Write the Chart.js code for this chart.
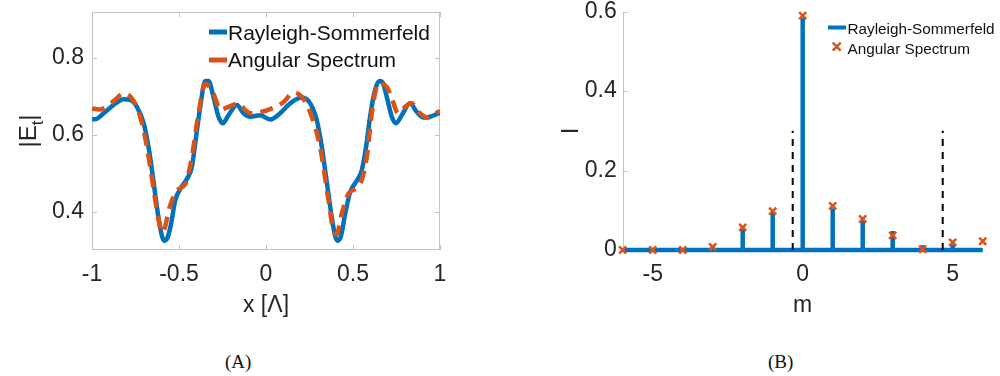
<!DOCTYPE html>
<html>
<head>
<meta charset="utf-8">
<script src="https://cdn.jsdelivr.net/npm/chart.js@4.4.0/dist/chart.umd.min.js"></script>
<style>
  html, body { margin: 0; padding: 0; background: #ffffff; }
  body { width: 1000px; height: 376px; position: relative; overflow: hidden; }
  #wa { position: absolute; left: 0; top: 0; }
  #wb { position: absolute; left: 520px; top: 0; }
  .cap { position: absolute; top: 351px; font-family: "Liberation Serif", "DejaVu Serif", serif; font-size: 19px; color: #111; }
</style>
</head>
<body>
<div id="wa"><canvas id="ca" width="470" height="320"></canvas></div>
<div id="wb"><canvas id="cb" width="480" height="320"></canvas></div>
<div class="cap" style="left:225px;">(A)</div>
<div class="cap" style="left:768px;">(B)</div>
<script>
// ---------- Panel A data: |E_t| vs x [Lambda] ----------
const rsX = [-1.000,-0.971,-0.933,-0.876,-0.818,-0.780,-0.742,-0.703,-0.675,-0.655,-0.637,-0.618,-0.598,-0.585,-0.566,-0.546,-0.522,-0.493,-0.455,-0.426,-0.407,-0.378,-0.349,-0.330,-0.302,-0.273,-0.248,-0.216,-0.167,-0.129,-0.091,-0.034,0.024,0.081,0.139,0.206,0.254,0.292,0.321,0.340,0.359,0.378,0.397,0.410,0.430,0.455,0.483,0.522,0.550,0.575,0.598,0.627,0.652,0.671,0.694,0.723,0.747,0.780,0.828,0.866,0.904,0.943,0.990,1.000];
const rsY = [0.640,0.642,0.656,0.678,0.693,0.691,0.673,0.630,0.568,0.507,0.446,0.385,0.337,0.324,0.332,0.367,0.429,0.459,0.485,0.516,0.577,0.673,0.740,0.740,0.699,0.647,0.630,0.651,0.678,0.656,0.647,0.651,0.640,0.656,0.682,0.697,0.682,0.638,0.568,0.507,0.446,0.385,0.337,0.324,0.335,0.394,0.450,0.481,0.507,0.568,0.647,0.717,0.740,0.736,0.699,0.647,0.630,0.651,0.682,0.660,0.645,0.647,0.656,0.658];
const asX = [-1.000,-0.960,-0.920,-0.870,-0.818,-0.780,-0.740,-0.710,-0.684,-0.660,-0.640,-0.620,-0.598,-0.580,-0.560,-0.512,-0.464,-0.426,-0.388,-0.349,-0.302,-0.263,-0.216,-0.158,-0.120,-0.091,-0.024,0.034,0.100,0.158,0.206,0.263,0.311,0.359,0.388,0.406,0.435,0.473,0.541,0.579,0.608,0.646,0.694,0.723,0.760,0.789,0.837,0.885,0.933,0.990,1.000];
const asY = [0.669,0.666,0.672,0.690,0.708,0.700,0.670,0.625,0.568,0.500,0.440,0.385,0.346,0.360,0.402,0.455,0.472,0.542,0.656,0.733,0.708,0.665,0.673,0.682,0.665,0.656,0.660,0.669,0.685,0.710,0.699,0.647,0.568,0.429,0.350,0.341,0.394,0.446,0.472,0.542,0.656,0.734,0.725,0.695,0.656,0.669,0.682,0.656,0.645,0.660,0.662];
const aXTicks = [-1, -0.5, 0, 0.5, 1];
const aYTicks = [0.4, 0.6, 0.8];

// ---------- Panel B data: I vs diffraction order m ----------
const orders = [-6,-5,-4,-3,-2,-1,0,1,2,3,4,5,6];
const rsI    = [0.000,0.000,0.000,0.012,0.057,0.094,0.584,0.105,0.076,0.048,0.012,0.014,0.000];
const asI    = [0.000,0.000,0.000,0.008,0.057,0.098,0.590,0.111,0.078,0.037,0.002,0.019,0.022];
const cutX   = [-0.333, 4.667];
const cutTop = 0.3;
const bXTicks = [-5, 0, 5];
const bYTicks = [0, 0.2, 0.4, 0.6];

const BLUE = '#0072BD', ORANGE = '#D95319', AXIS = '#c4c4c4', TXT = '#262626';
const FONT = '"Liberation Sans", Arial, sans-serif';
const LEG_RS = 'Rayleigh-Sommerfeld', LEG_AS = 'Angular Spectrum';

function fmt(v) { return String(Math.round(v * 10) / 10); }
function fixTicks(list) { return function (scale) { scale.ticks = list.map(v => ({ value: v })); }; }
function zeroPad(w, h) {
  return function (scale) {
    if (w !== null) scale.width = w;
    if (h !== null) scale.height = h;
    scale.paddingTop = 0; scale.paddingBottom = 0; scale.paddingLeft = 0; scale.paddingRight = 0;
  };
}

// ---------------- Panel A ----------------
const frameA = {
  id: 'frameA',
  beforeDatasetsDraw(chart) {
    const { ctx, chartArea: a, scales: { x, y } } = chart;
    ctx.save();
    ctx.strokeStyle = AXIS; ctx.lineWidth = 1;
    ctx.strokeRect(a.left + 0.5, a.top + 0.5, a.right - a.left - 1, a.bottom - a.top - 1);
    ctx.beginPath();
    const tl = 5;
    aXTicks.forEach(v => {
      const px = Math.round(x.getPixelForValue(v)) + 0.5;
      ctx.moveTo(px, a.bottom); ctx.lineTo(px, a.bottom - tl);
      ctx.moveTo(px, a.top); ctx.lineTo(px, a.top + tl);
    });
    aYTicks.forEach(v => {
      const py = Math.round(y.getPixelForValue(v)) + 0.5;
      ctx.moveTo(a.left, py); ctx.lineTo(a.left + tl, py);
      ctx.moveTo(a.right, py); ctx.lineTo(a.right - tl, py);
    });
    ctx.stroke();
    ctx.restore();
  },
  afterDraw(chart) {
    const { ctx } = chart;
    ctx.save();
    // y-axis title |E_t| with subscript
    ctx.translate(28, 131);
    ctx.rotate(-Math.PI / 2);
    ctx.fillStyle = TXT;
    ctx.textBaseline = 'alphabetic';
    ctx.font = '24px ' + FONT;
    const w1 = ctx.measureText('|E').width;
    ctx.font = '17px ' + FONT;
    const w2 = ctx.measureText('t').width;
    ctx.font = '24px ' + FONT;
    const w3 = ctx.measureText('|').width;
    const tot = w1 + w2 + w3;
    let xs = -tot / 2;
    ctx.fillText('|E', xs, 8);
    ctx.font = '17px ' + FONT;
    ctx.fillText('t', xs + w1, 15);
    ctx.font = '24px ' + FONT;
    ctx.fillText('|', xs + w1 + w2, 8);
    ctx.restore();

    // legend
    ctx.save();
    ctx.lineCap = 'butt';
    ctx.strokeStyle = BLUE; ctx.lineWidth = 5;
    ctx.beginPath(); ctx.moveTo(209, 32); ctx.lineTo(227, 32); ctx.stroke();
    ctx.strokeStyle = ORANGE;
    ctx.beginPath(); ctx.moveTo(209, 60); ctx.lineTo(227, 60); ctx.stroke();
    ctx.fillStyle = '#111';
    ctx.font = '21px ' + FONT;
    ctx.textBaseline = 'alphabetic';
    ctx.fillText(chart.data.datasets[0].label, 228, 40);
    ctx.fillText(chart.data.datasets[1].label, 228, 67);
    ctx.restore();
  }
};

new Chart(document.getElementById('ca'), {
  type: 'line',
  data: {
    datasets: [
      { label: LEG_RS, data: rsX.map((v, i) => ({ x: v, y: rsY[i] })), borderColor: BLUE, borderWidth: 4.5,
        pointRadius: 0, tension: 0.35, cubicInterpolationMode: 'monotone', order: 2 },
      { label: LEG_AS, data: asX.map((v, i) => ({ x: v, y: asY[i] })), borderColor: ORANGE, borderWidth: 4.5,
        borderDash: [13, 8], pointRadius: 0, tension: 0.35, cubicInterpolationMode: 'monotone', order: 1 }
    ]
  },
  options: {
    responsive: false, animation: false, devicePixelRatio: 1,
    layout: { padding: { left: 0, right: 30, top: 12, bottom: 0 } },
    plugins: { legend: { display: false }, tooltip: { enabled: false } },
    scales: {
      x: {
        type: 'linear', min: -1, max: 1,
        afterBuildTicks: fixTicks(aXTicks), afterFit: zeroPad(null, 70),
        grid: { display: false, drawTicks: false }, border: { display: false },
        ticks: { color: TXT, font: { family: FONT, size: 23 }, padding: 11, callback: fmt, maxRotation: 0, autoSkip: false },
        title: { display: true, text: 'x [Λ]', color: TXT, font: { family: FONT, size: 23 }, padding: { top: 0, bottom: 1 } }
      },
      y: {
        type: 'linear', min: 0.3, max: 0.92,
        afterBuildTicks: fixTicks(aYTicks), afterFit: zeroPad(92, null),
        grid: { display: false, drawTicks: false }, border: { display: false },
        ticks: { color: TXT, font: { family: FONT, size: 23 }, padding: 8, callback: fmt }
      }
    }
  },
  plugins: [frameA]
});

// ---------------- Panel B ----------------
const stemPts = [];
orders.forEach((m, i) => { stemPts.push({ x: m, y: 0 }, { x: m, y: rsI[i] }, { x: m, y: null }); });
const cutPts = [];
cutX.forEach(c => { cutPts.push({ x: c, y: 0 }, { x: c, y: cutTop }, { x: c, y: null }); });

const frameB = {
  id: 'frameB',
  beforeDatasetsDraw(chart) {
    const { ctx, chartArea: a, scales: { y } } = chart;
    ctx.save();
    ctx.strokeStyle = AXIS; ctx.lineWidth = 1;
    ctx.beginPath();
    const lx = Math.round(a.left) + 0.5;
    ctx.moveTo(lx, a.top); ctx.lineTo(lx, a.bottom);
    ctx.moveTo(a.left, Math.round(a.bottom) - 0.5); ctx.lineTo(a.right, Math.round(a.bottom) - 0.5);
    bYTicks.forEach(v => {
      const py = Math.round(y.getPixelForValue(v)) + 0.5;
      ctx.moveTo(a.left, py); ctx.lineTo(a.left + 5, py);
    });
    ctx.stroke();
    ctx.restore();
  },
  afterDraw(chart) {
    const { ctx } = chart;
    ctx.save();
    ctx.lineCap = 'butt';
    ctx.strokeStyle = BLUE; ctx.lineWidth = 4;
    ctx.beginPath(); ctx.moveTo(308, 27.5); ctx.lineTo(326, 27.5); ctx.stroke();
    ctx.strokeStyle = ORANGE; ctx.lineWidth = 2.5;
    const cx = 316.7, cy = 46.7, r = 4;
    ctx.beginPath();
    ctx.moveTo(cx - r, cy - r); ctx.lineTo(cx + r, cy + r);
    ctx.moveTo(cx - r, cy + r); ctx.lineTo(cx + r, cy - r);
    ctx.stroke();
    ctx.fillStyle = '#111';
    ctx.font = '15.3px ' + FONT;
    ctx.textBaseline = 'alphabetic';
    ctx.fillText(chart.data.datasets[3].label, 327.5, 33.5);
    ctx.fillText(chart.data.datasets[0].label, 327.5, 53.5);
    ctx.restore();
  }
};

new Chart(document.getElementById('cb'), {
  type: 'line',
  data: {
    datasets: [
      { label: LEG_AS, data: orders.map((m, i) => ({ x: m, y: asI[i] })), showLine: false,
        pointStyle: 'crossRot', pointRadius: 5, pointBorderWidth: 2.5, pointBorderColor: ORANGE, pointBackgroundColor: ORANGE,
        borderColor: ORANGE, clip: false },
      { label: 'cut', data: cutPts, borderColor: '#000000', borderWidth: 2, borderDash: [7, 6], pointRadius: 0, spanGaps: false, clip: false },
      { label: 'base', data: [{ x: -6, y: 0 }, { x: 6, y: 0 }], borderColor: BLUE, borderWidth: 4.5, pointRadius: 0, clip: false },
      { label: LEG_RS, data: stemPts, borderColor: BLUE, borderWidth: 4.5, borderCapStyle: 'butt', pointRadius: 0, spanGaps: false, clip: false }
    ]
  },
  options: {
    responsive: false, animation: false, devicePixelRatio: 1,
    layout: { padding: { left: 0, right: 17.3, top: 11.7, bottom: 0 } },
    plugins: { legend: { display: false }, tooltip: { enabled: false } },
    scales: {
      x: {
        type: 'linear', min: -6, max: 6,
        afterBuildTicks: fixTicks(bXTicks), afterFit: zeroPad(null, 70),
        grid: { display: false, drawTicks: false }, border: { display: false },
        ticks: { color: TXT, font: { family: FONT, size: 23 }, padding: 11, callback: fmt, maxRotation: 0, autoSkip: false },
        title: { display: true, text: 'm', color: TXT, font: { family: FONT, size: 23 }, padding: { top: 0, bottom: 1 } }
      },
      y: {
        type: 'linear', min: 0, max: 0.6,
        afterBuildTicks: fixTicks(bYTicks), afterFit: zeroPad(102.7, null),
        grid: { display: false, drawTicks: false }, border: { display: false },
        ticks: { color: TXT, font: { family: FONT, size: 23 }, padding: 6, callback: fmt },
        title: { display: true, text: 'I', color: TXT, font: { family: FONT, size: 24 }, padding: { top: 37, bottom: 0 } }
      }
    }
  },
  plugins: [frameB]
});
</script>
</body>
</html>
